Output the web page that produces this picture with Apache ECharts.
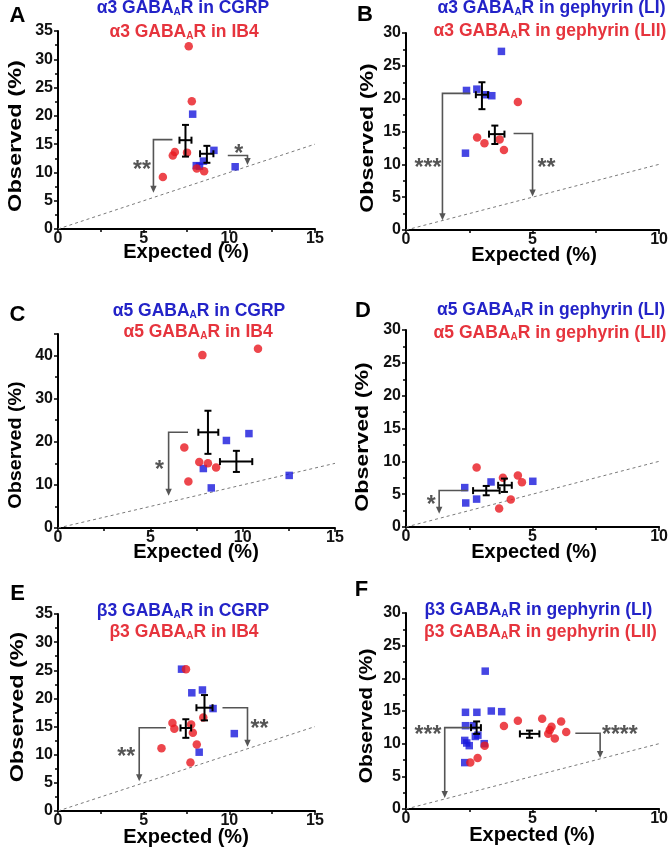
<!DOCTYPE html>
<html><head><meta charset="utf-8">
<script src="https://cdn.jsdelivr.net/npm/echarts@6/dist/echarts.min.js"></script>
<style>html,body{margin:0;padding:0;background:#fff}#c{width:671px;height:853px}</style>
</head><body><div id="c"></div>
<script>
// ---------- DATA ----------
// Panel A: alpha3 in CGRP (blue) / IB4 (red)
const A_blue = [[7.86,20.3],[8.07,11.2],[8.26,11.1],[8.49,12.0],[9.1,13.9],[10.34,11.0]];
const A_red  = [[7.63,32.3],[7.81,22.6],[6.12,9.2],[6.70,13.0],[6.82,13.6],[7.53,13.5],[8.10,10.7],[8.53,10.2]];
// means: [x, y, xLow, xHigh, yLow, yHigh]
const A_means = [[8.69,13.3,8.29,9.07,11.7,14.7],[7.44,15.7,7.09,7.79,12.8,18.4]];
// significance brackets: [x1,y1, x2,y2, x3,y3(arrow tip)]
const A_brackets = [[6.68,15.8,5.57,15.8,5.57,6.4],[9.91,13.0,11.06,13.0,11.06,11.3]];
const A_starPos = [[4.9,11.1],[10.55,13.8]];
const A_starText = ['**','*'];

// Panel B: alpha3 in gephyrin LI (blue) / LII (red)
const B_blue = [[3.77,27.2],[2.39,21.25],[2.80,21.45],[3.15,20.6],[3.39,20.45],[2.35,11.7]];
const B_red  = [[4.42,19.5],[2.81,14.1],[3.10,13.2],[3.70,13.8],[3.87,12.2]];
const B_means = [[3.0,20.6,2.76,3.24,18.4,22.5],[3.51,14.6,3.28,3.89,13.1,15.9]];
const B_brackets = [[2.54,20.8,1.44,20.8,1.44,1.5],[4.25,14.7,5.0,14.7,5.0,5.1]];
const B_starPos = [[0.87,9.9],[5.55,9.9]];
const B_starText = ['***','**'];

// Panel C: alpha5 in CGRP / IB4
const C_blue = [[7.87,13.8],[8.30,9.3],[9.12,20.3],[10.34,21.9],[12.52,12.2]];
const C_red  = [[7.82,40.1],[10.83,41.6],[6.84,18.7],[7.06,10.8],[7.65,15.3],[8.12,15.0],[8.56,14.05]];
const C_means = [[9.66,15.4,8.77,10.52,13.0,17.9],[8.12,22.2,7.6,8.68,17.2,27.2]];
const C_brackets = [[7.04,22.2,5.99,22.2,5.99,7.5]];
const C_starPos = [[5.5,14.3]];
const C_starText = ['*'];

// Panel D: alpha5 in gephyrin LI / LII
const D_blue = [[2.32,6.0],[2.36,3.66],[2.79,4.25],[3.36,6.86],[5.01,6.96]];
const D_red  = [[2.79,9.05],[3.68,2.8],[3.83,7.5],[4.14,4.2],[4.42,7.85],[4.58,6.8]];
const D_means = [[3.17,5.54,2.65,3.70,4.83,6.25],[3.89,6.35,3.64,4.18,5.34,7.37]];
const D_brackets = [[2.44,5.55,1.31,5.55,1.31,2.0]];
const D_starPos = [[1.0,3.8]];
const D_starText = ['*'];

// Panel E: beta3 in CGRP / IB4
const E_blue = [[7.21,25.2],[7.81,21.0],[8.43,21.5],[9.05,18.2],[8.24,10.45],[10.29,13.75]];
const E_red  = [[7.47,25.2],[6.04,11.15],[6.68,15.65],[6.79,14.6],[7.77,15.35],[7.87,13.9],[8.10,11.8],[7.73,8.62],[8.48,16.6]];
const E_means = [[8.55,18.35,8.08,9.02,16.1,20.6],[7.46,14.75,7.15,7.77,13.0,16.3]];
const E_brackets = [[6.3,14.8,4.74,14.8,4.74,5.3],[9.6,18.35,11.06,18.35,11.06,11.4]];
const E_starPos = [[3.98,10.2],[11.76,15.1]];
const E_starText = ['**','**'];

// Panel F: beta3 in gephyrin LI / LII
const F_blue = [[3.13,21.1],[2.35,14.8],[2.80,14.8],[3.37,15.0],[3.78,14.9],[2.35,12.75],[2.66,12.75],
                [2.32,10.5],[2.40,10.1],[2.50,9.7],[2.74,11.1],[2.84,11.3],[3.09,10.0],[2.32,7.1]];
const F_red  = [[2.54,7.1],[2.83,7.8],[3.11,9.7],[3.87,12.7],[4.42,13.5],[5.38,13.8],[5.75,12.6],
                [5.68,12.1],[5.62,11.5],[5.88,10.8],[6.13,13.4],[6.33,11.8]];
const F_means = [[2.79,12.45,2.57,2.96,11.5,13.4],[4.88,11.5,4.5,5.27,10.9,12.0]];
const F_brackets = [[2.54,12.45,1.53,12.45,1.53,1.7],[6.69,11.6,7.67,11.6,7.67,7.8]];
const F_starPos = [[0.87,11.85],[8.45,11.85]];
const F_starText = ['***','****'];

// axis ranges
const xMax = [15,10,15,10,15,10];
const yMax = [35,30,45,30,35,30];
const yStep = [5,5,10,5,5,5];
const xStep = [5,5,5,5,5,5];

// texts
const panelLetters = ['A','B','C','D','E','F'];
const titlesBlue = ['α3 GABA_AR in CGRP','α3 GABA_AR in gephyrin (LI)','α5 GABA_AR in CGRP','α5 GABA_AR in gephyrin (LI)','β3 GABA_AR in CGRP','β3 GABA_AR in gephyrin (LI)'];
const titlesRed  = ['α3 GABA_AR in IB4','α3 GABA_AR in gephyrin (LII)','α5 GABA_AR in IB4','α5 GABA_AR in gephyrin (LII)','β3 GABA_AR in IB4','β3 GABA_AR in gephyrin (LII)'];
const xName = 'Expected (%)';
const yName = 'Observed (%)';

// ---------- LAYOUT ----------
const gridPos = [
  {left:58, top:31, width:257, height:198},
  {left:406, top:33, width:257, height:197},
  {left:58, top:334, width:277, height:194},
  {left:406, top:330, width:256, height:197},
  {left:58, top:614, width:257, height:197},
  {left:406, top:613, width:257, height:196}
];
const letterPos = [[17.5,15.5],[365,14.5],[17.5,315],[363,310.5],[17.5,593.5],[361.5,590]];
const titlePos1 = [[183,8],[551.5,8],[199,311],[551,310],[183,611.5],[538.5,610]];
const titlePos2 = [[184,32.5],[550,31],[198,332.5],[550,333],[184,632.5],[540.5,632.5]];
const xNamePos = [[186,252],[534,255],[196,552],[534,552],[186,837],[532,835.5]];
const yNamePos = [[16,136],[368,138],[16,445],[363,437],[18,707],[367,716]];
const yNameStretch = [1.24,1.22,1.04,1.22,1.23,1.10];

const FONT = '"Liberation Sans", Arial, Helvetica, sans-serif';
const BLUE='#1818dc', RED='#e8181f', TBLUE='#2323c8', TRED='#e6343d', GRAY='#555555';

const panels = [
  {blue:A_blue, red:A_red, means:A_means, br:A_brackets, sp:A_starPos, st:A_starText},
  {blue:B_blue, red:B_red, means:B_means, br:B_brackets, sp:B_starPos, st:B_starText},
  {blue:C_blue, red:C_red, means:C_means, br:C_brackets, sp:C_starPos, st:C_starText},
  {blue:D_blue, red:D_red, means:D_means, br:D_brackets, sp:D_starPos, st:D_starText},
  {blue:E_blue, red:E_red, means:E_means, br:E_brackets, sp:E_starPos, st:E_starText},
  {blue:F_blue, red:F_red, means:F_means, br:F_brackets, sp:F_starPos, st:F_starText}
];

function renderErr(params, api){
  const x=api.value(0), y=api.value(1);
  const c = api.coord([x,y]);
  const xl = api.coord([api.value(2),y])[0], xh = api.coord([api.value(3),y])[0];
  const yl = api.coord([x,api.value(4)])[1], yh = api.coord([x,api.value(5)])[1];
  const cap=3.5, st={stroke:'#000', lineWidth:2};
  return {type:'group', children:[
    {type:'line', shape:{x1:xl,y1:c[1],x2:xh,y2:c[1]}, style:st},
    {type:'line', shape:{x1:c[0],y1:yl,x2:c[0],y2:yh}, style:st},
    {type:'line', shape:{x1:xl,y1:c[1]-cap,x2:xl,y2:c[1]+cap}, style:st},
    {type:'line', shape:{x1:xh,y1:c[1]-cap,x2:xh,y2:c[1]+cap}, style:st},
    {type:'line', shape:{x1:c[0]-cap,y1:yl,x2:c[0]+cap,y2:yl}, style:st},
    {type:'line', shape:{x1:c[0]-cap,y1:yh,x2:c[0]+cap,y2:yh}, style:st}
  ]};
}
function renderBracket(params, api){
  const p1=api.coord([api.value(0),api.value(1)]);
  const p2=api.coord([api.value(2),api.value(3)]);
  const p3=api.coord([api.value(4),api.value(5)]);
  const ah=7, aw=3.2;
  return {type:'group', children:[
    {type:'polyline', shape:{points:[p1,p2,[p3[0],p3[1]-ah+1]]}, style:{stroke:GRAY, lineWidth:1.6, fill:null}},
    {type:'polygon', shape:{points:[[p3[0]-aw,p3[1]-ah],[p3[0]+aw,p3[1]-ah],[p3[0],p3[1]]]}, style:{fill:GRAY}}
  ]};
}
function starRenderer(texts){
  return function(params, api){
    const c = api.coord([api.value(0),api.value(1)]);
    return {type:'text', x:c[0], y:c[1]+4, style:{text:texts[params.dataIndex], fontSize:23, fontWeight:'bold',
      fontFamily:FONT, fill:GRAY, align:'center', verticalAlign:'middle'}};
  };
}

const grid=[], xAxis=[], yAxis=[], series=[], graphic=[];
const axisLineStyle = {color:'#000', width:2};
panels.forEach((p,i)=>{
  grid.push(Object.assign({}, gridPos[i]));
  const lbl = {fontFamily:FONT, fontWeight:'bold', fontSize:16, color:'#111'};
  xAxis.push({type:'value', gridIndex:i, min:0, max:xMax[i], interval:xStep[i], splitLine:{show:false},
    axisLine:{onZero:false, lineStyle:axisLineStyle},
    axisTick:{length:4, lineStyle:{width:1.5,color:'#000'}},
    minorTick:{show:true, splitNumber:2, length:3, lineStyle:{width:1.5,color:'#000'}},
    axisLabel:Object.assign({margin:2}, lbl)});
  const ys = yStep[i];
  yAxis.push({type:'value', gridIndex:i, min:0, max:yMax[i], interval:ys, splitLine:{show:false},
    axisLine:{onZero:false, lineStyle:axisLineStyle},
    axisTick:{length:4, lineStyle:{width:1.5,color:'#000'}},
    minorTick:{show:true, splitNumber:2, length:3, lineStyle:{width:1.5,color:'#000'}},
    axisLabel:Object.assign({margin:5, formatter:(v)=> (v % ys === 0 ? String(v) : '')}, lbl)});
  series.push({type:'line', xAxisIndex:i, yAxisIndex:i, data:[[0,0],[xMax[i],xMax[i]]], symbol:'none', silent:true,
    lineStyle:{color:'#7a7a7a', width:1, type:[3,3]}, z:1});
  series.push({type:'scatter', xAxisIndex:i, yAxisIndex:i, data:p.blue, symbol:'rect', symbolSize:7.5,
    itemStyle:{color:BLUE}, z:2});
  series.push({type:'scatter', xAxisIndex:i, yAxisIndex:i, data:p.red, symbol:'circle', symbolSize:8.5,
    itemStyle:{color:RED}, z:3});
  series.push({type:'custom', xAxisIndex:i, yAxisIndex:i, data:p.means, renderItem:renderErr,
    encode:{x:[0,2,3], y:[1,4,5]}, z:5});
  series.push({type:'custom', xAxisIndex:i, yAxisIndex:i, data:p.br, renderItem:renderBracket,
    encode:{x:[0,2,4], y:[1,3,5]}, z:4});
  series.push({type:'custom', xAxisIndex:i, yAxisIndex:i, data:p.sp, renderItem:starRenderer(p.st),
    encode:{x:0, y:1}, z:4});

  // texts
  graphic.push({type:'text', x:letterPos[i][0], y:letterPos[i][1], style:{text:panelLetters[i], fontSize:22,
    fontWeight:'bold', fontFamily:FONT, fill:'#000', align:'center', verticalAlign:'middle'}});
  [[titlesBlue[i], titlePos1[i], TBLUE],[titlesRed[i], titlePos2[i], TRED]].forEach(([t,pos,col])=>{
    const parts = t.split('_A');
    graphic.push({type:'text', x:pos[0], y:pos[1], style:{
      text:'{t|'+parts[0]+'}{s|A}{t|'+parts[1]+'}',
      rich:{
        t:{fontSize:17.5, fontWeight:'bold', fontFamily:FONT, fill:col, color:col, lineHeight:18},
        s:{fontSize:10, fontWeight:'bold', fontFamily:FONT, fill:col, color:col, verticalAlign:'bottom', lineHeight:10}
      },
      align:'center', verticalAlign:'middle'}});
  });
  graphic.push({type:'text', x:xNamePos[i][0], y:xNamePos[i][1], style:{text:xName, fontSize:20, fontWeight:'bold',
    fontFamily:FONT, fill:'#000', align:'center', verticalAlign:'middle'}});
  graphic.push({type:'text', x:yNamePos[i][0], y:yNamePos[i][1], rotation:Math.PI/2, scaleX:yNameStretch[i], scaleY:1,
    style:{text:yName, fontSize:19, fontWeight:'bold', fontFamily:FONT, fill:'#000', align:'center', verticalAlign:'middle'}});
});

const chart = echarts.init(document.getElementById('c'));
chart.setOption({backgroundColor:'#fff', animation:false, grid, xAxis, yAxis, series, graphic});
</script></body></html>
